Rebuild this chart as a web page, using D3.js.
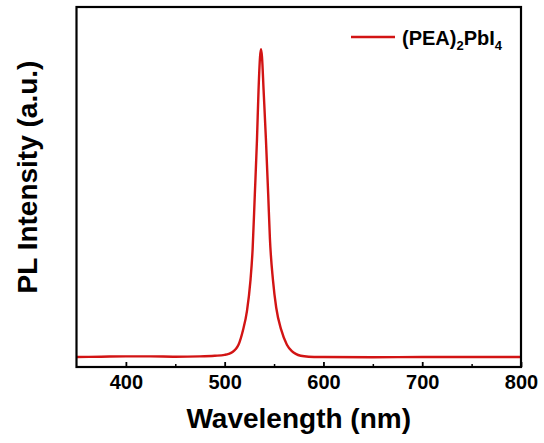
<!DOCTYPE html>
<html>
<head>
<meta charset="utf-8">
<script src="https://cdn.jsdelivr.net/npm/d3@7"></script>
<style>
  html, body { margin: 0; padding: 0; background: #fff; }
  svg { display: block; }
  text { font-family: "Liberation Sans", Arial, sans-serif; font-weight: bold; fill: #000; }
</style>
</head>
<body>
<svg id="chart" width="544" height="443"></svg>
<script>
// ---- data ----
const wavelength = [350, 375, 400, 425, 450, 475, 490, 500, 504, 508, 511, 514, 518.6, 522.6, 526, 528.3, 530.5, 532.7, 534.3, 535.8, 536.8, 537.8, 539.4, 541.8, 544.1, 545.8, 548.9, 552.2, 557.3, 563, 568, 572, 577, 585, 600, 650, 700, 750, 800];
const intensity  = [0.000, 0.001, 0.002, 0.002, 0.001, 0.002, 0.004, 0.007, 0.010, 0.016, 0.025, 0.040, 0.088, 0.150, 0.245, 0.350, 0.526, 0.705, 0.868, 0.975, 1.000, 0.975, 0.868, 0.705, 0.526, 0.385, 0.250, 0.160, 0.088, 0.040, 0.019, 0.010, 0.004, 0.001, 0.000, -0.001, 0.000, 0.000, 0.000];
const xTicks = [400, 500, 600, 700, 800];
const xMinorTicks = [450, 550, 650, 750];
const seriesName = "(PEA)2PbI4";
const xLabel = "Wavelength (nm)";
const yLabel = "PL Intensity (a.u.)";

// ---- layout ----
const L = 76.5, R = 521, T = 7, B = 367;
const svg = d3.select("#chart");

const x = d3.scaleLinear().domain([350, 800]).range([L, R]);
const y = d3.scaleLinear().domain([-0.0325, 1.1375]).range([B, T]);

const data = wavelength.map((w, i) => ({w, v: intensity[i]}));

// clip
svg.append("clipPath").attr("id", "clip")
  .append("rect").attr("x", L).attr("y", T).attr("width", R - L).attr("height", B - T);

// line
const line = d3.line().x(d => x(d.w)).y(d => y(d.v)).curve(d3.curveMonotoneX);
svg.append("path")
  .datum(data)
  .attr("clip-path", "url(#clip)")
  .attr("d", line)
  .attr("fill", "none")
  .attr("stroke", "#d21414")
  .attr("stroke-width", 2.4)
  .attr("stroke-linejoin", "round");

// bottom axis (ticks inward)
const xAxis = d3.axisBottom(x).tickValues(xTicks).tickSizeInner(-5).tickSizeOuter(0).tickPadding(12);
const gx = svg.append("g").attr("transform", `translate(0,${B})`).call(xAxis);
gx.select(".domain").remove();
gx.selectAll(".tick line").attr("stroke", "#000").attr("stroke-width", 1.8);
gx.selectAll(".tick text").style("font-size", "20px").attr("dy", "0.71em").attr("y", 8);

const xMinor = d3.axisBottom(x).tickValues(xMinorTicks).tickSizeInner(-3).tickSizeOuter(0).tickFormat("");
const gxm = svg.append("g").attr("transform", `translate(0,${B})`).call(xMinor);
gxm.select(".domain").remove();
gxm.selectAll(".tick line").attr("stroke", "#000").attr("stroke-width", 1.5);

// frame
svg.append("rect")
  .attr("x", L).attr("y", T).attr("width", R - L).attr("height", B - T)
  .attr("fill", "none").attr("stroke", "#000").attr("stroke-width", 2.2);

// axis labels
svg.append("text")
  .attr("x", (L + R) / 2).attr("y", 428)
  .attr("text-anchor", "middle")
  .style("font-size", "28px")
  .text(xLabel);

svg.append("text")
  .attr("transform", `translate(37,${177}) rotate(-90)`)
  .attr("text-anchor", "middle")
  .style("font-size", "28px")
  .text(yLabel);

// legend
const lg = svg.append("g");
lg.append("line")
  .attr("x1", 351).attr("x2", 395).attr("y1", 37).attr("y2", 37)
  .attr("stroke", "#d21414").attr("stroke-width", 2.4);
const lt = lg.append("text").attr("x", 402).attr("y", 45).style("font-size", "20px");
lt.append("tspan").text("(PEA)");
lt.append("tspan").attr("dy", 5).style("font-size", "13px").text("2");
lt.append("tspan").attr("dy", -5).text("PbI");
lt.append("tspan").attr("dy", 5).style("font-size", "13px").text("4");
</script>
</body>
</html>
